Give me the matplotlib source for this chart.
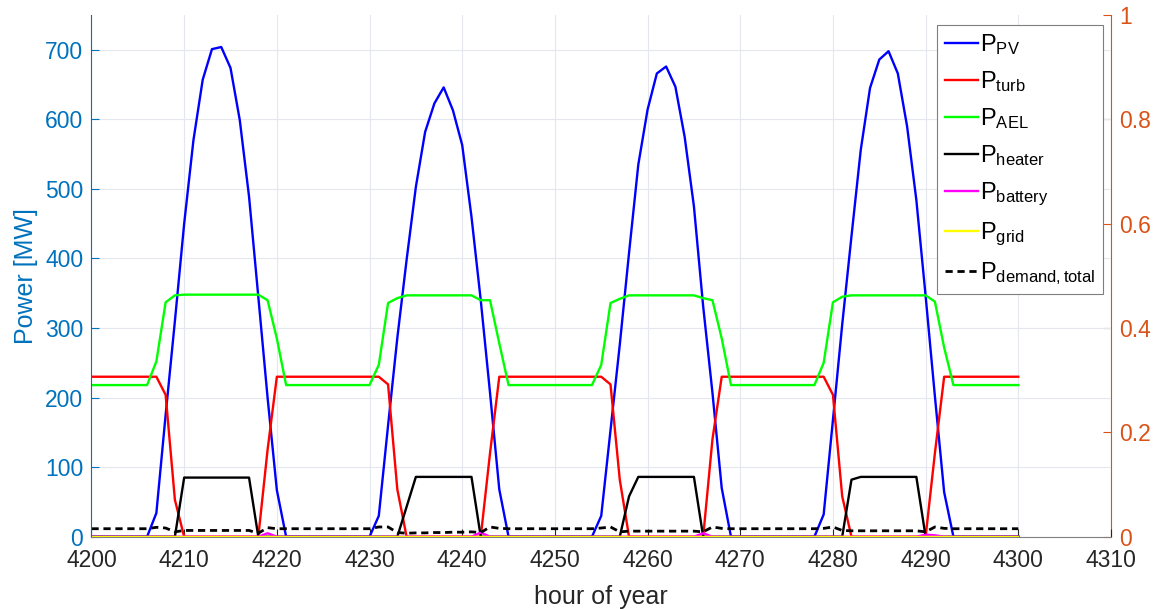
import matplotlib
matplotlib.use("Agg")
import matplotlib.pyplot as plt

plt.rcParams['font.family'] = ['Liberation Sans', 'DejaVu Sans']
plt.rcParams['mathtext.fontset'] = 'custom'
plt.rcParams['mathtext.rm'] = 'Liberation Sans'
plt.rcParams['mathtext.it'] = 'Liberation Sans:italic'
plt.rcParams['mathtext.bf'] = 'Liberation Sans:bold'
plt.rcParams['mathtext.default'] = 'regular'

# ---------------- data ----------------
hours = list(range(4200, 4301))

p_pv = [
    0, 0, 0, 0, 0, 0, 0,
    34, 175, 310, 450, 570, 657, 701, 704, 674, 599, 489, 345, 200, 67,
    0, 0, 0, 0, 0, 0, 0, 0, 0, 0,
    30, 160, 286, 398, 503, 582, 623, 646, 613, 563, 460, 340, 207, 68,
    0, 0, 0, 0, 0, 0, 0, 0, 0, 0,
    30, 153, 276, 408, 535, 614, 666, 676, 647, 575, 475, 331, 207, 70,
    0, 0, 0, 0, 0, 0, 0, 0, 0, 0,
    32, 168, 305, 432, 556, 645, 686, 698, 666, 590, 484, 346, 202, 64,
    0, 0, 0, 0, 0, 0, 0, 0]

p_turb = [
    230, 230, 230, 230, 230, 230, 230,
    230, 204, 53, 0, 0, 0, 0, 0, 0, 0, 0, 0, 125, 230,
    230, 230, 230, 230, 230, 230, 230, 230, 230, 230,
    230, 219, 68, 0, 0, 0, 0, 0, 0, 0, 0, 0, 120, 230,
    230, 230, 230, 230, 230, 230, 230, 230, 230, 230,
    230, 219, 82, 0, 0, 0, 0, 0, 0, 0, 0, 0, 140, 230,
    230, 230, 230, 230, 230, 230, 230, 230, 230, 230,
    230, 204, 58, 0, 0, 0, 0, 0, 0, 0, 0, 0, 120, 230,
    230, 230, 230, 230, 230, 230, 230, 230]

p_ael = [
    218, 218, 218, 218, 218, 218, 218,
    252, 337, 347, 348, 348, 348, 348, 348, 348, 348, 348, 348, 340, 285,
    218, 218, 218, 218, 218, 218, 218, 218, 218, 218,
    247, 336, 343, 347, 347, 347, 347, 347, 347, 347, 347, 340, 340, 278,
    218, 218, 218, 218, 218, 218, 218, 218, 218, 218,
    247, 336, 342, 347, 347, 347, 347, 347, 347, 347, 347, 343, 340, 285,
    218, 218, 218, 218, 218, 218, 218, 218, 218, 218,
    250, 337, 345, 347, 347, 347, 347, 347, 347, 347, 347, 347, 338, 272,
    218, 218, 218, 218, 218, 218, 218, 218]

p_heater = [
    0, 0, 0, 0, 0, 0, 0,
    0, 0, 0, 85, 85, 85, 85, 85, 85, 85, 85, 0, 0, 0,
    0, 0, 0, 0, 0, 0, 0, 0, 0, 0,
    0, 0, 0, 43, 86, 86, 86, 86, 86, 86, 86, 0, 0, 0,
    0, 0, 0, 0, 0, 0, 0, 0, 0, 0,
    0, 0, 0, 58, 86, 86, 86, 86, 86, 86, 86, 0, 0, 0,
    0, 0, 0, 0, 0, 0, 0, 0, 0, 0,
    0, 0, 0, 82, 86, 86, 86, 86, 86, 86, 86, 0, 0, 0,
    0, 0, 0, 0, 0, 0, 0, 0]

p_battery = [
    0, 0, 0, 0, 0, 0, 0,
    0, 0, 0, 0, 0, 0, 0, 0, 0, 0, 0, 0, 5, 0,
    0, 0, 0, 0, 0, 0, 0, 0, 0, 0,
    0, 0, 0, 0, 0, 0, 0, 0, 0, 0, 0, 6, 0, 0,
    0, 0, 0, 0, 0, 0, 0, 0, 0, 0,
    0, 0, 0, 0, 0, 0, 0, 0, 0, 0, 0, 5, 0, 0,
    0, 0, 0, 0, 0, 0, 0, 0, 0, 0,
    0, 0, 0, 0, 0, 0, 0, 0, 0, 0, 0, 3, 2, 0,
    0, 0, 0, 0, 0, 0, 0, 0]

p_grid = [
    0, 0, 0, 0, 0, 0, 0,
    0, 0, 0, 0, 0, 0, 0, 0, 0, 0, 0, 0, 0, 0,
    0, 0, 0, 0, 0, 0, 0, 0, 0, 0,
    0, 0, 0, 0, 0, 0, 0, 0, 0, 0, 0, 0, 0, 0,
    0, 0, 0, 0, 0, 0, 0, 0, 0, 0,
    0, 0, 0, 0, 0, 0, 0, 0, 0, 0, 0, 0, 0, 0,
    0, 0, 0, 0, 0, 0, 0, 0, 0, 0,
    0, 0, 0, 0, 0, 0, 0, 0, 0, 0, 0, 0, 0, 0,
    0, 0, 0, 0, 0, 0, 0, 0]

p_demand = [
    11.5, 11.5, 11.5, 11.5, 11.5, 11.5, 11.5,
    13.5, 12.5, 7, 9, 9, 9, 9, 9, 9, 9, 9, 5, 13, 11.5,
    11.5, 11.5, 11.5, 11.5, 11.5, 11.5, 11.5, 11.5, 11.5, 11.5,
    14, 14, 6, 5, 5.5, 5.5, 6, 6, 6.5, 6.5, 7, 6, 14, 12,
    11.5, 11.5, 11.5, 11.5, 11.5, 11.5, 11.5, 11.5, 11.5, 11.5,
    12.5, 14, 7, 8, 8, 8, 8, 8, 8, 8, 8, 7, 14, 12,
    11.5, 11.5, 11.5, 11.5, 11.5, 11.5, 11.5, 11.5, 11.5, 11.5,
    12, 14, 9, 8.5, 8.5, 8.5, 8.5, 8.5, 8.5, 8.5, 8.5, 7, 14, 12,
    11.5, 11.5, 11.5, 11.5, 11.5, 11.5, 11.5, 11.5]

labels = [r'P$_{PV}$', r'P$_{turb}$', r'P$_{AEL}$', r'P$_{heater}$',
          r'P$_{battery}$', r'P$_{grid}$', r'P$_{demand,total}$']

x_ticks = list(range(4200, 4311, 10))
y_ticks = list(range(0, 701, 100))
y2_ticks = [0, 0.2, 0.4, 0.6, 0.8, 1.0]
y2_labels = ['0', '0.2', '0.4', '0.6', '0.8', '1']

# ---------------- figure ----------------
BLUE_AX = '#0072BD'
ORANGE_AX = '#D95319'
DARK = '#262626'

fig = plt.figure(figsize=(11.58, 6.09), dpi=100)
ax = fig.add_axes([0.079, 0.1187, 0.8804, 0.8566])

lw = 1.7
ax.plot(hours, p_pv, color='#0000FF', lw=lw, label=labels[0])
ax.plot(hours, p_turb, color='#FF0000', lw=lw, label=labels[1])
ax.plot(hours, p_ael, color='#00FF00', lw=lw, label=labels[2])
ax.plot(hours, p_heater, color='#000000', lw=lw, label=labels[3])
ax.plot(hours, p_battery, color='#FF00FF', lw=lw, label=labels[4])
ax.plot(hours, p_grid, color='#FFFF00', lw=lw, label=labels[5])
ax.plot(hours, p_demand, color='#000000', lw=2.0, linestyle=(0, (2.6, 1.7)),
        label=labels[6])

ax.set_xlim(4200, 4310)
ax.set_ylim(0, 750)
ax.set_xticks(x_ticks)
ax.set_yticks(y_ticks)
ax.grid(True, color='#e4e8ee', lw=0.8)
ax.set_axisbelow(True)

ax.tick_params(axis='x', direction='in', length=6, colors=DARK, labelsize=16.5, pad=9)
ax.tick_params(axis='y', direction='in', length=6, colors=BLUE_AX, labelsize=16.5, pad=6)
for lab in ax.get_xticklabels():
    lab.set_color(DARK)

ax.spines['top'].set_visible(False)
ax.spines['right'].set_visible(False)
ax.spines['left'].set_color(BLUE_AX)
ax.spines['bottom'].set_color('#808080')
ax.spines['left'].set_linewidth(0.8)
ax.spines['bottom'].set_linewidth(0.8)

ax.set_xlabel('hour of year', fontsize=18, color=DARK, labelpad=9)
ax.set_ylabel('Power [MW]', fontsize=18, color=BLUE_AX, labelpad=5)

ax2 = ax.twinx()
ax2.set_ylim(0, 1)
ax2.set_yticks(y2_ticks)
ax2.set_yticklabels(y2_labels)
ax2.tick_params(axis='y', direction='in', length=6, colors=ORANGE_AX, labelsize=16.5, pad=6)
for s in ['top', 'left', 'bottom']:
    ax2.spines[s].set_visible(False)
ax2.spines['right'].set_color(ORANGE_AX)
ax2.spines['right'].set_linewidth(0.8)

leg = ax.legend(loc='upper right', bbox_to_anchor=(0.992, 0.981),
                borderaxespad=0, fontsize=17, fancybox=False,
                edgecolor='#7f7f7f', framealpha=1, handlelength=1.4,
                handletextpad=0.12, labelspacing=0.52, borderpad=0.3)
leg.get_frame().set_linewidth(0.8)
leg.set_zorder(10)
ax.set_zorder(ax2.get_zorder() + 1)
ax.patch.set_visible(False)

fig.savefig('out.png', dpi=100)
